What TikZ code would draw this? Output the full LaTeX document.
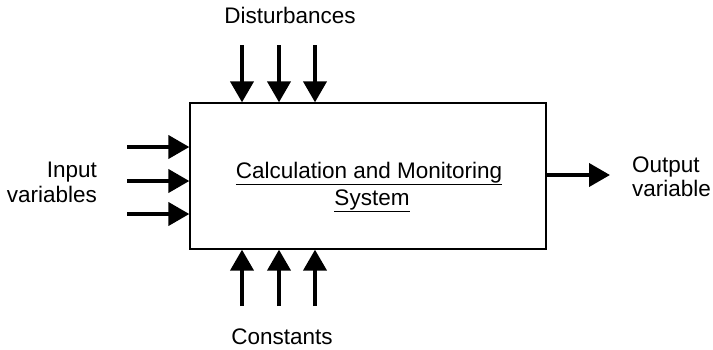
\documentclass[tikz,border=0pt]{standalone}
\usepackage{fontspec}
\setmainfont{Liberation Sans}
\usetikzlibrary{arrows.meta}
\begin{document}
\begin{tikzpicture}[x=1pt,y=-1pt,
  lbl/.style={font=\fontsize{22.5}{27}\selectfont, inner sep=0pt, anchor=base},
  bigarrow/.style={line width=4pt, -{Triangle[length=21pt,width=23pt]}},
  sysbox/.style={draw, line width=1.3pt, minimum width=356pt, minimum height=146pt, inner sep=0pt}]
\useasboundingbox (0,0) rectangle (713,349);
\node[sysbox] (box) at (368,176) {};
\node[lbl] (title1) at (369,178) {\underline{Calculation and Monitoring}};
\node[lbl] (title2) at (372,205) {\underline{System}};
\node[lbl] (dist) at (290,23) {Disturbances};
\node[lbl] (const) at (282,344) {Constants};
\node[lbl, anchor=base east] (inp1) at (97,177) {Input};
\node[lbl, anchor=base east] (inp2) at (97,202) {variables};
\node[lbl, anchor=base west] (outp1) at (632,172) {Output};
\node[lbl, anchor=base west] (outp2) at (632,196) {variable};
% input arrows
\foreach \yy/\n in {147/1,181/2,214/3}{
  \coordinate (i\n) at (127,\yy);
  \draw[bigarrow] (i\n) -- (i\n -| box.west);
}
% top and bottom arrows
\foreach \xx/\n in {242/1,279/2,315/3}{
  \coordinate (t\n) at (\xx,45);
  \draw[bigarrow] (t\n) -- (t\n |- box.north);
  \coordinate (b\n) at (\xx,306);
  \draw[bigarrow] (b\n) -- (b\n |- box.south);
}
% output
\coordinate (o) at (610,175);
\draw[bigarrow] (box.east |- o) -- (o);
\end{tikzpicture}
\end{document}
